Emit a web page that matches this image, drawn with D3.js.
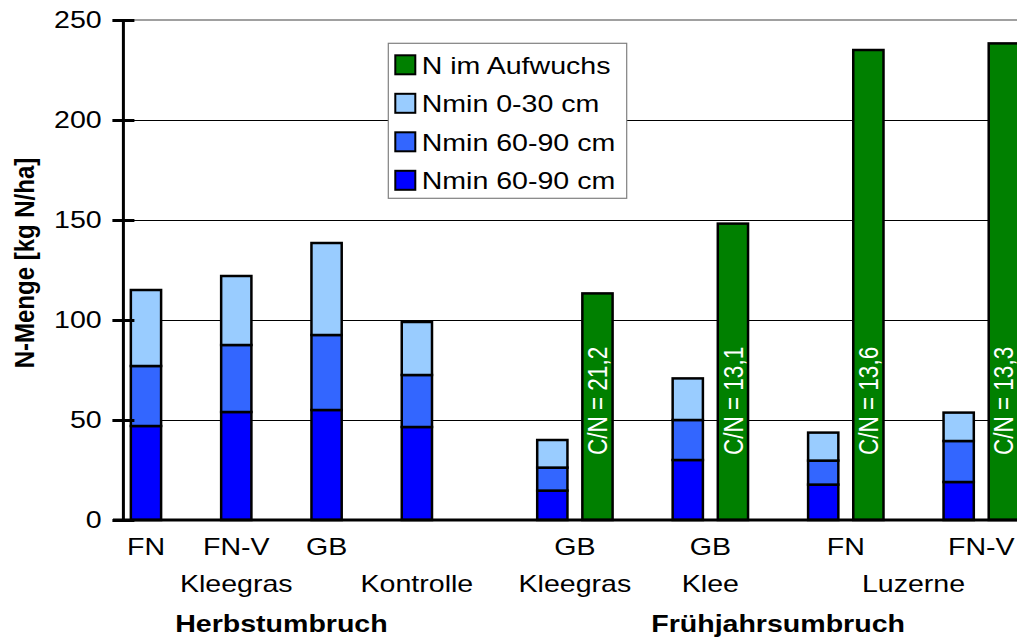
<!DOCTYPE html>
<html>
<head>
<meta charset="utf-8">
<script src="https://cdn.jsdelivr.net/npm/d3@7"></script>
<style>
body { margin: 0; background: #fff; }
svg { display: block; font-family: "Liberation Sans", Arial, sans-serif; }
</style>
</head>
<body>
<svg id="chart" width="1017" height="639"></svg>
<script>
// data
const treatments = ["FN", "FN-V", "GB", "", "GB", "GB", "FN", "FN-V"];
const crops = ["Kleegras", "Kleegras", "Kleegras", "Kontrolle", "Kleegras", "Klee", "Luzerne", "Luzerne"];
const timings = ["Herbstumbruch", "Herbstumbruch", "Herbstumbruch", "Herbstumbruch",
	"Frühjahrsumbruch", "Frühjahrsumbruch", "Frühjahrsumbruch", "Frühjahrsumbruch"];
const nminLow = [47, 54, 55, 46.5, 14.7, 30, 17.7, 19];      // bottom, dark blue
const nminMid = [30, 33.5, 37.5, 26, 11.5, 20, 12, 20.5];    // middle
const nminTop = [38, 34.5, 46, 26.5, 13.8, 20.8, 14, 14.2];  // 0-30 cm, light
const nAufwuchs = [null, null, null, null, 113.3, 148.2, 235, 238.3];
const cnRatio = [null, null, null, null, "21,2", "13,1", "13,6", "13,3"];
const yTicks = [0, 50, 100, 150, 200, 250];
const legendNames = ["N im Aufwuchs", "Nmin 0-30 cm", "Nmin 60-90 cm", "Nmin 60-90 cm"];
const legendColors = ["#008000", "#99ccff", "#3366ff", "#0000ff"];

const svg = d3.select('#chart');
const plotLeft = 123.4, plotTop = 20, plotBottom = 520;
const sx = 1.19; // the original text is a bit wider than Arial

// one slot per bar, with empty slots in between
const slots = [];
treatments.forEach((t, i) => {
	slots.push('s' + i);
	if (nAufwuchs[i] != null) slots.push('g' + i);
	slots.push('gap' + i);
	if (timings[i + 1] && timings[i + 1] !== timings[i]) slots.push('gapGroup' + i);
});

const step = 45.15;
const plotRight = plotLeft + slots.length * step;
const x = d3.scaleBand()
	.domain(slots)
	.range([plotLeft, plotRight])
	.paddingInner(0.33)
	.paddingOuter(0.165);
const y = d3.scaleLinear().domain([0, 250]).range([plotBottom, plotTop]);

// grid
svg.append('g')
	.attr('shape-rendering', 'crispEdges')
	.selectAll('line')
	.data(yTicks.filter(d => d > 0 && d < 250))
	.join('line')
	.attr('x1', plotLeft).attr('x2', plotRight)
	.attr('y1', d => y(d)).attr('y2', d => y(d))
	.attr('stroke', '#000').attr('stroke-width', 1);
svg.append('line')
	.attr('x1', plotLeft).attr('x2', plotRight)
	.attr('y1', y(250)).attr('y2', y(250))
	.attr('stroke', '#808080').attr('stroke-width', 1.5);

// stacked Nmin bars
const table = treatments.map((t, i) => ({
	slot: 's' + i, low: nminLow[i], mid: nminMid[i], top: nminTop[i]
}));
const stacked = d3.stack().keys(['low', 'mid', 'top'])(table);
const stackColors = {low: '#0000ff', mid: '#3366ff', top: '#99ccff'};

svg.append('g')
	.selectAll('g')
	.data(stacked)
	.join('g')
	.attr('fill', d => stackColors[d.key])
	.selectAll('rect')
	.data(d => d)
	.join('rect')
	.attr('x', d => x(d.data.slot))
	.attr('width', x.bandwidth())
	.attr('y', d => y(d[1]))
	.attr('height', d => y(d[0]) - y(d[1]))
	.attr('stroke', '#000')
	.attr('stroke-width', 2.5);

// green bars
const greens = nAufwuchs.map((v, i) => ({slot: 'g' + i, v, cn: cnRatio[i]})).filter(d => d.v != null);
svg.append('g')
	.selectAll('rect')
	.data(greens)
	.join('rect')
	.attr('x', d => x(d.slot))
	.attr('width', x.bandwidth())
	.attr('y', d => y(d.v))
	.attr('height', d => y(0) - y(d.v))
	.attr('fill', '#008000')
	.attr('stroke', '#000')
	.attr('stroke-width', 2.5);

svg.append('g')
	.selectAll('text')
	.data(greens)
	.join('text')
	.attr('transform', d => `translate(${x(d.slot) + x.bandwidth() / 2},${y(32.5)}) scale(${sx},1) rotate(-90)`)
	.attr('dy', '0.36em')
	.attr('fill', '#fff')
	.attr('font-size', 22.5)
	.text(d => 'C/N = ' + d.cn);

// axes
svg.append('line')
	.attr('x1', 113).attr('x2', 1017)
	.attr('y1', plotBottom).attr('y2', plotBottom)
	.attr('stroke', '#000').attr('stroke-width', 3);

const yAxis = svg.append('g')
	.attr('transform', `translate(${plotLeft},0)`)
	.call(d3.axisLeft(y).tickValues(yTicks).tickSize(0));
yAxis.select('.domain').remove();
yAxis.append('line')
	.attr('x1', 0).attr('x2', 0)
	.attr('y1', plotTop).attr('y2', plotBottom + 1.5)
	.attr('stroke', '#000').attr('stroke-width', 3);
yAxis.selectAll('.tick').append('line')
	.attr('x1', -11).attr('x2', 11)
	.attr('stroke', '#000').attr('stroke-width', 3);
yAxis.selectAll('.tick text')
	.attr('x', 0)
	.attr('transform', `translate(-21.7,0) scale(${sx},1)`)
	.attr('fill', '#000')
	.attr('font-size', 24)
	.attr('font-family', '"Liberation Sans", Arial, sans-serif');

svg.append('text')
	.attr('transform', `translate(34,263) scale(${sx},1) rotate(-90)`)
	.attr('text-anchor', 'middle')
	.attr('font-size', 24)
	.attr('font-weight', 'bold')
	.text('N-Menge [kg N/ha]');

// category labels, three levels
const centerOf = i => {
	const c = x('s' + i) + x.bandwidth() / 2;
	return nAufwuchs[i] != null ? (c + x('g' + i) + x.bandwidth() / 2) / 2 : c;
};
const labels = svg.append('g').attr('font-size', 24).attr('text-anchor', 'middle');
const label = (cx, cy, txt) => labels.append('text')
	.attr('transform', `translate(${cx},${cy}) scale(${sx},1)`)
	.text(txt);

treatments.forEach((t, i) => label(centerOf(i), 555, t));

const runs = (keyFn) => {
	const out = [];
	treatments.forEach((t, i) => {
		const k = keyFn(i);
		const last = out[out.length - 1];
		if (last && last.key === k) last.idx.push(i);
		else out.push({key: k, idx: [i]});
	});
	return out;
};
runs(i => timings[i] + '|' + crops[i]).forEach(r => {
	label(d3.mean(r.idx, centerOf), 592, crops[r.idx[0]]);
});
runs(i => timings[i]).forEach(r => {
	label(d3.mean(r.idx, centerOf), 632, r.key).attr('font-weight', 'bold');
});

// legend
const legend = svg.append('g').attr('transform', 'translate(388.3,43.3)');
legend.append('rect')
	.attr('width', 238.4).attr('height', 155)
	.attr('fill', '#fff')
	.attr('stroke', '#808080').attr('stroke-width', 1.2);
const rows = legend.selectAll('g.row')
	.data(legendNames)
	.join('g')
	.attr('class', 'row')
	.attr('transform', (d, i) => `translate(0,${21.5 + i * 38.5})`);
rows.append('rect')
	.attr('x', 7).attr('y', -9.5)
	.attr('width', 20).attr('height', 19)
	.attr('fill', (d, i) => legendColors[i])
	.attr('stroke', '#000').attr('stroke-width', 2);
rows.append('text')
	.attr('transform', `translate(33.4,9) scale(${sx},1)`)
	.attr('font-size', 24)
	.text(d => d);
</script>
</body>
</html>
